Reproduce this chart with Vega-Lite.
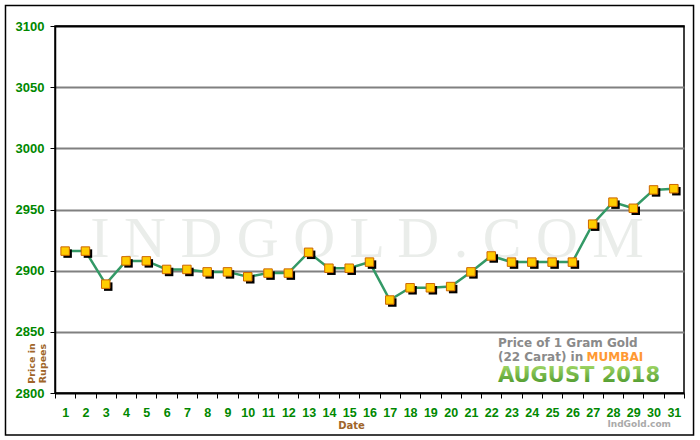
{
  "$schema": "https://vega.github.io/schema/vega-lite/v6.json",
  "width": 629,
  "height": 367,
  "autosize": {"type": "none"},
  "padding": {"left": 55, "top": 26, "right": 16, "bottom": 47},
  "background": "white",
  "config": {"view": {"stroke": "black", "strokeWidth": 1.5}},
  "data": {"values": [
    {"date": 1, "price": 2916}, {"date": 2, "price": 2916}, {"date": 3, "price": 2889},
    {"date": 4, "price": 2908}, {"date": 5, "price": 2908}, {"date": 6, "price": 2901},
    {"date": 7, "price": 2901}, {"date": 8, "price": 2899}, {"date": 9, "price": 2899},
    {"date": 10, "price": 2895}, {"date": 11, "price": 2898}, {"date": 12, "price": 2898},
    {"date": 13, "price": 2915}, {"date": 14, "price": 2902}, {"date": 15, "price": 2902},
    {"date": 16, "price": 2907}, {"date": 17, "price": 2876}, {"date": 18, "price": 2886},
    {"date": 19, "price": 2886}, {"date": 20, "price": 2887}, {"date": 21, "price": 2899},
    {"date": 22, "price": 2912}, {"date": 23, "price": 2907}, {"date": 24, "price": 2907},
    {"date": 25, "price": 2907}, {"date": 26, "price": 2907}, {"date": 27, "price": 2938},
    {"date": 28, "price": 2956}, {"date": 29, "price": 2951}, {"date": 30, "price": 2966},
    {"date": 31, "price": 2967}
  ]},
  "layer": [
    {
      "layer": [
        {
          "data": {"values": [{"t": ""}]},
          "mark": {"type": "rect", "fill": "white", "fillOpacity": 0, "stroke": "black", "strokeWidth": 1.5, "clip": false},
          "encoding": {
            "x": {"datum": -1.94, "type": "quantitative", "scale": {"domain": [0.5, 31.5], "nice": false, "zero": false}, "axis": null},
            "x2": {"datum": 31.97},
            "y": {"datum": 3116.76, "type": "quantitative", "scale": {"domain": [2800, 3100], "nice": false, "zero": false}, "axis": null},
            "y2": {"datum": 2765.67}
          }
        },
        {
          "data": {"values": [{"t": "I N D G O L D . C O M"}]},
          "mark": {"type": "text", "font": "Liberation Serif", "fontSize": 58, "color": "#eaedea", "align": "center", "baseline": "alphabetic", "clip": false},
          "encoding": {
            "text": {"field": "t"},
            "x": {"datum": 15.88, "type": "quantitative", "scale": {"domain": [0.5, 31.5], "nice": false, "zero": false}, "axis": null},
            "y": {"datum": 2911.2, "type": "quantitative", "scale": {"domain": [2800, 3100], "nice": false, "zero": false}, "axis": null}
          }
        },
        {
          "data": {"values": [{"t": "Price of 1 Gram Gold"}]},
          "mark": {"type": "text", "font": "DejaVu Sans", "fontWeight": "bold", "fontSize": 12, "color": "#8a8a8a", "align": "left", "baseline": "alphabetic", "clip": false},
          "encoding": {
            "text": {"field": "t"},
            "x": {"datum": 22.33, "type": "quantitative", "scale": {"domain": [0.5, 31.5], "nice": false, "zero": false}, "axis": null},
            "y": {"datum": 2837.2, "type": "quantitative", "scale": {"domain": [2800, 3100], "nice": false, "zero": false}, "axis": null}
          }
        },
        {
          "data": {"values": [{"t": "(22 Carat) in"}]},
          "mark": {"type": "text", "font": "DejaVu Sans", "fontWeight": "bold", "fontSize": 12, "color": "#8a8a8a", "align": "left", "baseline": "alphabetic", "clip": false},
          "encoding": {
            "text": {"field": "t"},
            "x": {"datum": 22.33, "type": "quantitative", "scale": {"domain": [0.5, 31.5], "nice": false, "zero": false}, "axis": null},
            "y": {"datum": 2825.75, "type": "quantitative", "scale": {"domain": [2800, 3100], "nice": false, "zero": false}, "axis": null}
          }
        },
        {
          "data": {"values": [{"t": "MUMBAI"}]},
          "mark": {"type": "text", "font": "DejaVu Sans", "fontWeight": "bold", "fontSize": 12, "color": "#ff9933", "align": "left", "baseline": "alphabetic", "clip": false},
          "encoding": {
            "text": {"field": "t"},
            "x": {"datum": 26.7, "type": "quantitative", "scale": {"domain": [0.5, 31.5], "nice": false, "zero": false}, "axis": null},
            "y": {"datum": 2825.75, "type": "quantitative", "scale": {"domain": [2800, 3100], "nice": false, "zero": false}, "axis": null}
          }
        },
        {
          "data": {"values": [{"t": "AUGUST 2018"}]},
          "mark": {"type": "text", "font": "DejaVu Sans", "fontWeight": "bold", "fontSize": 21, "align": "left", "baseline": "alphabetic", "clip": false,
            "color": {"gradient": "linear", "x1": 0, "y1": 0, "x2": 0, "y2": 1, "stops": [{"offset": 0, "color": "#a8dc6a"}, {"offset": 1, "color": "#3f8e25"}]}},
          "encoding": {
            "text": {"field": "t"},
            "x": {"datum": 22.33, "type": "quantitative", "scale": {"domain": [0.5, 31.5], "nice": false, "zero": false}, "axis": null},
            "y": {"datum": 2808.6, "type": "quantitative", "scale": {"domain": [2800, 3100], "nice": false, "zero": false}, "axis": null}
          }
        },
        {
          "data": {"values": [{"t": "IndGold.com"}]},
          "mark": {"type": "text", "font": "DejaVu Sans", "fontWeight": "bold", "fontSize": 9, "color": "#aaaaaa", "align": "right", "baseline": "alphabetic", "clip": false},
          "encoding": {
            "text": {"field": "t"},
            "x": {"datum": 30.86, "type": "quantitative", "scale": {"domain": [0.5, 31.5], "nice": false, "zero": false}, "axis": null},
            "y": {"datum": 2772.2, "type": "quantitative", "scale": {"domain": [2800, 3100], "nice": false, "zero": false}, "axis": null}
          }
        }
      ]
    },
    {
      "encoding": {
        "x": {
          "field": "date", "type": "ordinal",
          "scale": {"type": "band", "paddingInner": 0, "paddingOuter": 0},
          "axis": {
            "orient": "bottom", "title": "Date", "labelAngle": 0, "tickBand": "extent",
            "tickSize": 5, "tickColor": "black", "tickWidth": 1, "domain": false, "grid": false,
            "labelFont": "Liberation Sans", "labelFontWeight": "bold", "labelFontSize": 12.5,
            "labelColor": "#008800", "labelBaseline": "alphabetic", "labelPadding": 18,
            "titleFont": "DejaVu Sans", "titleFontSize": 10, "titleFontWeight": "bold",
            "titleColor": "#a0652a", "titleX": 296, "titleY": 35, "titleBaseline": "alphabetic", "titleAlign": "center"
          }
        },
        "y": {
          "field": "price", "type": "quantitative",
          "scale": {"domain": [2800, 3100], "nice": false, "zero": false},
          "axis": {
            "orient": "left", "values": [2800, 2850, 2900, 2950, 3000, 3050, 3100], "format": "d",
            "title": ["Price in", "Rupees"],
            "tickSize": 5, "tickColor": "black", "domainColor": "black", "domainWidth": 1.5,
            "grid": true, "gridWidth": 2,
            "gridColor": {"condition": {"test": "datum.value === 3100 || datum.value === 2800", "value": "black"}, "value": "#808080"},
            "labelFont": "Liberation Sans", "labelFontWeight": "bold", "labelFontSize": 13,
            "labelColor": "#008800", "labelPadding": 6,
            "titleFont": "DejaVu Sans", "titleFontSize": 9.5, "titleFontWeight": "bold", "titleColor": "#a0652a",
            "titleX": -24, "titleY": 337, "titleAlign": "center", "titleBaseline": "middle", "titleLineHeight": 11
          }
        }
      },
      "layer": [
        {"mark": {"type": "line", "color": "#339966", "strokeWidth": 2.5}},
        {"mark": {"type": "point", "shape": "square", "filled": true, "fill": "black", "stroke": null, "size": 72, "opacity": 1, "xOffset": 2.5, "yOffset": 2.5}},
        {"mark": {"type": "point", "shape": "square", "filled": true, "fill": "#ffcc00", "stroke": "#cc6600", "strokeWidth": 1, "size": 72, "opacity": 1}}
      ]
    }
  ],
  "resolve": {"scale": {"x": "independent", "y": "independent"}}
}
